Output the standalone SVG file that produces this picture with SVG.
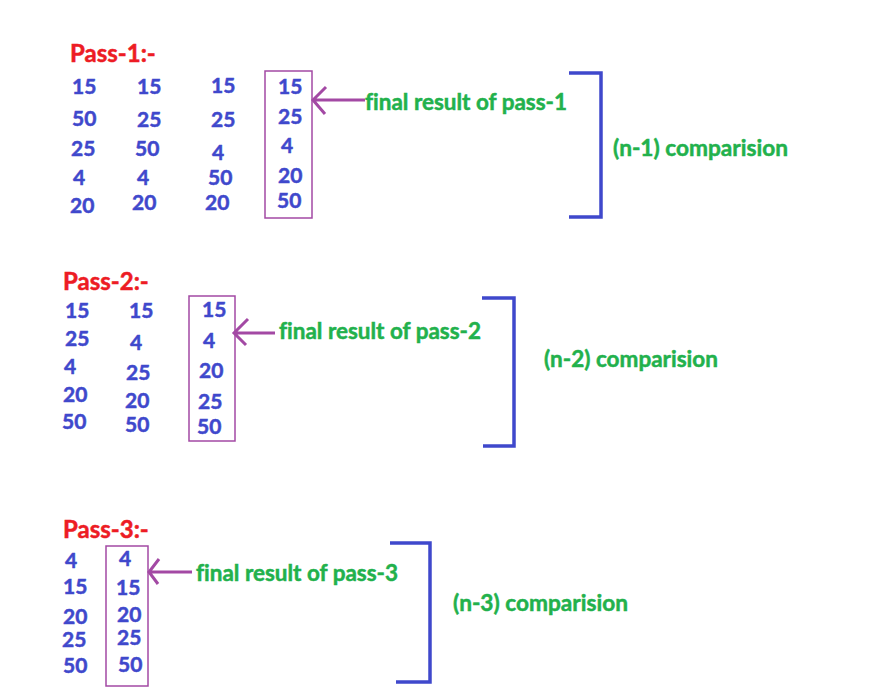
<svg xmlns="http://www.w3.org/2000/svg" width="875" height="694" viewBox="0 0 875 694">
<style>
.t{font-family:Lato,"Liberation Sans",sans-serif;font-weight:bold;font-variant-ligatures:none;stroke-width:0.5}
.pass{font-size:24px;fill:#ed1c24;stroke:#ed1c24}
.num{font-size:21px;fill:#3f48cc;stroke:#3f48cc}
.lbl{font-size:23px;fill:#22b14c;stroke:#22b14c}
.box{fill:none;stroke:#a349a4;stroke-width:1.5}
.arr{fill:none;stroke:#a349a4;stroke-width:3;stroke-linecap:butt}
.br{fill:none;stroke:#3f48cc;stroke-width:3.5}
</style>
<rect width="875" height="694" fill="#fff"/>
<g id="pass1">
<text class="t pass" x="70" y="62">Pass-1:-</text>
<g class="t num">
<text x="72" y="94">15</text><text x="72" y="126">50</text><text x="71" y="156">25</text><text x="73" y="185">4</text><text x="70" y="213">20</text>
<text x="137" y="94">15</text><text x="137" y="127">25</text><text x="135" y="156">50</text><text x="137" y="185">4</text><text x="132" y="210">20</text>
<text x="211" y="93">15</text><text x="211" y="127">25</text><text x="212" y="160">4</text><text x="208" y="185">50</text><text x="205" y="210">20</text>
</g>
</g>
<g id="result1">
<rect class="box" x="265" y="71" width="47" height="147"/>
<g class="t num">
<text x="278" y="94">15</text><text x="278" y="124">25</text><text x="281" y="153">4</text><text x="278" y="183">20</text><text x="277" y="208">50</text>
</g>
</g>
<g id="label1"><text class="t lbl" x="365" y="110" textLength="202" lengthAdjust="spacingAndGlyphs">final result of pass-1</text></g>
<g id="bracket1-label"><text class="t lbl" x="613" y="156" textLength="175" lengthAdjust="spacingAndGlyphs">(n-1) comparision</text></g>

<g id="pass2">
<text class="t pass" x="63" y="290">Pass-2:-</text>
<g class="t num">
<text x="65" y="318">15</text><text x="65" y="346">25</text><text x="64" y="374">4</text><text x="63" y="402">20</text><text x="62" y="429">50</text>
<text x="129" y="318">15</text><text x="130" y="350">4</text><text x="126" y="380">25</text><text x="125" y="408">20</text><text x="125" y="432">50</text>
</g>
</g>
<g id="result2">
<rect class="box" x="189" y="296" width="46" height="145"/>
<g class="t num">
<text x="202" y="317">15</text><text x="203" y="348">4</text><text x="199" y="378">20</text><text x="198" y="409">25</text><text x="197" y="434">50</text>
</g>
</g>
<g id="label2"><text class="t lbl" x="279" y="339" textLength="202" lengthAdjust="spacingAndGlyphs">final result of pass-2</text></g>
<g id="bracket2-label"><text class="t lbl" x="544" y="367" textLength="174" lengthAdjust="spacingAndGlyphs">(n-2) comparision</text></g>

<g id="pass3">
<text class="t pass" x="63" y="538">Pass-3:-</text>
<g class="t num">
<text x="65" y="568">4</text><text x="63" y="594">15</text><text x="63" y="624">20</text><text x="62" y="647">25</text><text x="63" y="673">50</text>
</g>
</g>
<g id="result3">
<rect class="box" x="106" y="546" width="42" height="140"/>
<g class="t num">
<text x="119" y="566">4</text><text x="116" y="595">15</text><text x="117" y="622">20</text><text x="117" y="645">25</text><text x="118" y="672">50</text>
</g>
</g>
<g id="label3"><text class="t lbl" x="196" y="581" textLength="202" lengthAdjust="spacingAndGlyphs">final result of pass-3</text></g>
<g id="bracket3-label"><text class="t lbl" x="453" y="611" textLength="175" lengthAdjust="spacingAndGlyphs">(n-3) comparision</text></g>

<g id="connectors">
<path class="arr" d="M365,100 H313 M326,87 L313,100 L325,114"/>
<path class="arr" d="M275,333 H234 M248,319 L234,333 L246,345"/>
<path class="arr" d="M192,572 H149 M159,559 L149,572 L158,584"/>
<path class="br" d="M569,73 H601 V217 H569"/>
<path class="br" d="M482,298 H514 V446 H483"/>
<path class="br" d="M390,543 H430 V682 H396"/>
</g>
</svg>
